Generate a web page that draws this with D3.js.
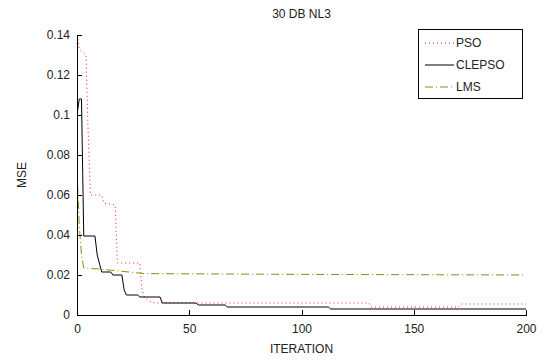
<!DOCTYPE html>
<html>
<head>
<meta charset="utf-8">
<script src="https://cdn.jsdelivr.net/npm/d3@7"></script>
<style>
  body { margin: 0; background: #fff; }
  svg text { font-family: "Liberation Sans", Arial, sans-serif; fill: #222; }
</style>
</head>
<body>
<div id="chart"></div>
<script>
// iteration / mse pairs
var psoIter = [0, 1, 4, 5, 6, 11, 12, 17, 18, 28, 29, 30, 32, 35, 130, 131, 170, 171, 200]
var psoMse  = [0.14, 0.133, 0.13, 0.09, 0.06, 0.06, 0.056, 0.055, 0.026, 0.026, 0.0125, 0.009, 0.007, 0.006, 0.006, 0.004, 0.004, 0.0055, 0.0055]

var clepsoIter = [0, 1, 2, 3, 8, 9, 11, 15, 16, 20, 21, 22, 27, 28, 37, 38, 53, 54, 66, 67, 112, 113, 200]
var clepsoMse  = [0.1, 0.108, 0.108, 0.0395, 0.0395, 0.03, 0.0215, 0.0215, 0.02, 0.02, 0.0125, 0.01, 0.01, 0.009, 0.009, 0.006, 0.006, 0.005, 0.005, 0.004, 0.004, 0.003, 0.003]

var lmsIter = [0, 1, 2, 3, 10, 30, 100, 200]
var lmsMse  = [0.072, 0.045, 0.03, 0.0235, 0.023, 0.0207, 0.0203, 0.02]

var yTicks = [0, 0.02, 0.04, 0.06, 0.08, 0.1, 0.12, 0.14]
var xTicks = [0, 50, 100, 150, 200]
var seriesNames = ['PSO', 'CLEPSO', 'LMS']

var width = 556, height = 360
var margin = { top: 35, right: 30, bottom: 45, left: 77 }

var svg = d3.select('#chart').append('svg')
    .attr('width', width)
    .attr('height', height)

var x = d3.scaleLinear().domain([0, 200]).range([margin.left, width - margin.right])
var y = d3.scaleLinear().domain([0, 0.14]).range([height - margin.bottom, margin.top])

var styles = {
    PSO: { color: '#ff2020', dash: '1,3' },
    CLEPSO: { color: '#000', dash: null },
    LMS: { color: '#8c8c14', dash: '8,3,1,3' }
}

var series = [
    { name: 'PSO', it: psoIter, v: psoMse },
    { name: 'CLEPSO', it: clepsoIter, v: clepsoMse },
    { name: 'LMS', it: lmsIter, v: lmsMse }
]

var line = d3.line()
    .x(function (d) { return x(d[0]) })
    .y(function (d) { return y(d[1]) })

svg.append('defs').append('clipPath').attr('id', 'clip')
    .append('rect')
    .attr('x', margin.left).attr('y', margin.top)
    .attr('width', x(200) - x(0)).attr('height', y(0) - y(0.14))

// draw LMS first so black sits on top
;[series[2], series[0], series[1]].forEach(function (s) {
    svg.append('path')
        .datum(d3.zip(s.it, s.v))
        .attr('clip-path', 'url(#clip)')
        .attr('fill', 'none')
        .attr('stroke', styles[s.name].color)
        .attr('stroke-width', 1)
        .attr('stroke-dasharray', styles[s.name].dash)
        .attr('d', line)
})

// axes, ticks pointing inward, no box
var xAxis = svg.append('g')
    .attr('transform', 'translate(0,' + y(0) + ')')
    .call(d3.axisBottom(x).tickValues(xTicks).tickSizeInner(-5).tickSizeOuter(0).tickPadding(9))
var yAxis = svg.append('g')
    .attr('transform', 'translate(' + x(0) + ',0)')
    .call(d3.axisLeft(y).tickValues(yTicks).tickSizeInner(-5).tickSizeOuter(0).tickPadding(7)
        .tickFormat(function (d) { return String(+d.toFixed(2)) }))

;[xAxis, yAxis].forEach(function (g) {
    g.select('.domain').attr('stroke', '#000').attr('shape-rendering', 'crispEdges')
    g.selectAll('.tick line').attr('stroke', '#000').attr('shape-rendering', 'crispEdges')
    g.selectAll('.tick text').attr('font-size', '12px').attr('fill', '#222')
        .style('font-family', '"Liberation Sans", Arial, sans-serif')
})

svg.append('text')
    .attr('x', (x(0) + x(200)) / 2).attr('y', 18)
    .attr('text-anchor', 'middle').attr('font-size', '12px')
    .text('30 DB NL3')

svg.append('text')
    .attr('x', (x(0) + x(200)) / 2).attr('y', 353)
    .attr('text-anchor', 'middle').attr('font-size', '12px')
    .text('ITERATION')

svg.append('text')
    .attr('transform', 'translate(26,' + y(0.07) + ') rotate(-90)')
    .attr('text-anchor', 'middle').attr('font-size', '12px')
    .text('MSE')

// legend
var lg = svg.append('g').attr('transform', 'translate(418,29)')
lg.append('rect')
    .attr('x', 0.5).attr('y', 0.5).attr('width', 104).attr('height', 69)
    .attr('fill', '#fff').attr('stroke', '#000')
    .attr('shape-rendering', 'crispEdges')
seriesNames.forEach(function (n, i) {
    var yy = 14 + i * 22
    lg.append('line')
        .attr('x1', 7).attr('x2', 36).attr('y1', yy).attr('y2', yy)
        .attr('stroke', styles[n].color)
        .attr('stroke-dasharray', styles[n].dash)
    lg.append('text')
        .attr('x', 38).attr('y', yy + 4)
        .attr('font-size', '12px')
        .text(n)
})
</script>
</body>
</html>
